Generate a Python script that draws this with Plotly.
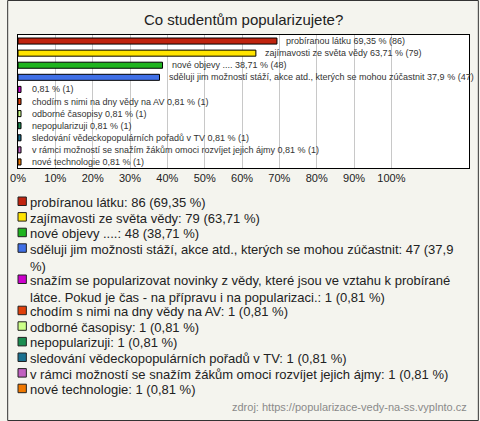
import plotly.graph_objects as go

title = "Co studentům popularizujete?"

categories = [
    "probíranou látku",
    "zajímavosti ze světa vědy",
    "nové objevy ....",
    "sděluji jim možností stáží, akce atd., kterých se mohou zúčastnit",
    "snažím se popularizovat novinky z vědy, které jsou ve vztahu k probírané látce. Pokud je čas - na přípravu i na popularizaci.",
    "chodím s nimi na dny vědy na AV",
    "odborné časopisy",
    "nepopularizuji",
    "sledování vědeckopopulárních pořadů v TV",
    "v rámci možností se snažím žákům omoci rozvíjet jejich ájmy",
    "nové technologie",
]
bar_names = [
    "probíranou látku",
    "zajímavosti ze světa vědy",
    "nové objevy ....",
    "sděluji jim možností stáží, akce atd., kterých se mohou zúčastnit",
    "",
    "chodím s nimi na dny vědy na AV",
    "odborné časopisy",
    "nepopularizuji",
    "sledování vědeckopopulárních pořadů v TV",
    "v rámci možností se snažím žákům omoci rozvíjet jejich ájmy",
    "nové technologie",
]
legend_names = [
    "probíranou látku",
    "zajímavosti ze světa vědy",
    "nové objevy ....",
    "sděluji jim možnosti stáží, akce atd., kterých se mohou zúčastnit",
    "snažím se popularizovat novinky z vědy, které jsou ve vztahu k probírané<br>látce. Pokud je čas - na přípravu i na popularizaci.",
    "chodím s nimi na dny vědy na AV",
    "odborné časopisy",
    "nepopularizuji",
    "sledování vědeckopopulárních pořadů v TV",
    "v rámci možností se snažím žákům omoci rozvíjet jejich ájmy",
    "nové technologie",
]
counts = [86, 79, 48, 47, 1, 1, 1, 1, 1, 1, 1]
percents = [69.35, 63.71, 38.71, 37.9, 0.81, 0.81, 0.81, 0.81, 0.81, 0.81, 0.81]
percent_labels = ["69,35", "63,71", "38,71", "37,9", "0,81", "0,81", "0,81", "0,81", "0,81", "0,81", "0,81"]
colors = ["#c0240f", "#ffe400", "#1fb41f", "#3f6fe6", "#cc00cc", "#e0400c",
          "#ccff88", "#1a8c50", "#1a7090", "#c060c0", "#f07800"]
tick_vals = [0, 10, 20, 30, 40, 50, 60, 70, 80, 90, 100]
tick_text = ["0%", "10%", "20%", "30%", "40%", "50%", "60%", "70%", "80%", "90%", "100%"]
source = "zdroj: https://popularizace-vedy-na-ss.vyplnto.cz"

W, H = 480, 421
ML, MR, MT, MB = 11, 10, 35, 253
PW, PH = W - ML - MR, H - MT - MB


def px(x):
    return (x - ML) / PW


def py(y):
    return 1 - (y - MT) / PH


ys = list(range(len(categories)))

fig = go.Figure()
fig.add_trace(go.Bar(
    x=percents, y=ys, orientation="h", width=0.5,
    marker=dict(color=colors, line=dict(color="#000000", width=1)),
    hoverinfo="skip", showlegend=False,
))

annotations = []
for i, (n, p, c) in enumerate(zip(bar_names, percent_labels, counts)):
    txt = (n + " " if n else "") + f"{p} % ({c})"
    annotations.append(dict(
        x=percents[i], y=ys[i], xref="x", yref="y", text=txt, showarrow=False,
        xanchor="left", yanchor="middle", xshift=7 if percents[i] > 5 else 9,
        font=dict(family="Liberation Sans, Arial", size=9, color="#333333"),
    ))

# title
annotations.append(dict(
    x=0.5, y=py(19), xref="paper", yref="paper", text=title, showarrow=False,
    xanchor="center", yanchor="middle",
    font=dict(family="Liberation Sans, Arial", size=15, color="#222222"),
))

# legend (manual)
shapes = []
line_step = 15.6
y0 = 201
line = 0
for i, name in enumerate(legend_names):
    yc = y0 + line * line_step
    full = f"{name}: {counts[i]} ({percent_labels[i]} %)"
    if i == 3:
        full = f"{name}: {counts[i]} ({percent_labels[i]}<br>%)"
    annotations.append(dict(
        x=px(21), y=py(yc - 8), xref="paper", yref="paper", text=full,
        showarrow=False, xanchor="left", yanchor="top", align="left",
        font=dict(family="Liberation Sans, Arial", size=13, color="#222222"),
    ))
    shapes.append(dict(
        type="rect", xref="paper", yref="paper",
        x0=px(11), x1=px(19.5), y0=py(yc - 4), y1=py(yc + 4.5),
        fillcolor=colors[i], line=dict(color="#222222", width=1),
    ))
    line += 1 + full.count("<br>")

annotations.append(dict(
    x=px(470), y=py(407), xref="paper", yref="paper", text=source,
    showarrow=False, xanchor="right", yanchor="middle",
    font=dict(family="Liberation Sans, Arial", size=11, color="#8a8a8a"),
))

# outer border
shapes.append(dict(
    type="rect", xref="paper", yref="paper",
    x0=px(0.5), x1=px(W - 0.5), y0=py(H - 0.5), y1=py(0.5),
    line=dict(color="#333333", width=1), fillcolor="rgba(0,0,0,0)", layer="below",
))

fig.update_layout(
    width=W, height=H,
    margin=dict(l=ML, r=MR, t=MT, b=MB, pad=0),
    paper_bgcolor="#f4f4ee", plot_bgcolor="#ffffff",
    annotations=annotations, shapes=shapes, showlegend=False,
    bargap=0.5,
)
fig.update_xaxes(
    range=[0, PW / 3.8], tickvals=tick_vals, ticktext=tick_text,
    showgrid=True, gridcolor="#c8c8c8", gridwidth=1, zeroline=False,
    showline=True, linecolor="#000000", linewidth=1, mirror=True,
    ticks="", tickfont=dict(family="Liberation Sans, Arial", size=11, color="#222222"),
    fixedrange=True,
)
fig.update_yaxes(
    range=[len(categories) - 0.5, -0.5], showticklabels=False, showgrid=False,
    zeroline=False, showline=True, linecolor="#000000", linewidth=1, mirror=True,
    ticks="", fixedrange=True,
)

fig.write_html(
    "out.html",
    config={"displayModeBar": False},
    post_script="document.body.style.margin='0';document.body.style.overflow='hidden';",
)
